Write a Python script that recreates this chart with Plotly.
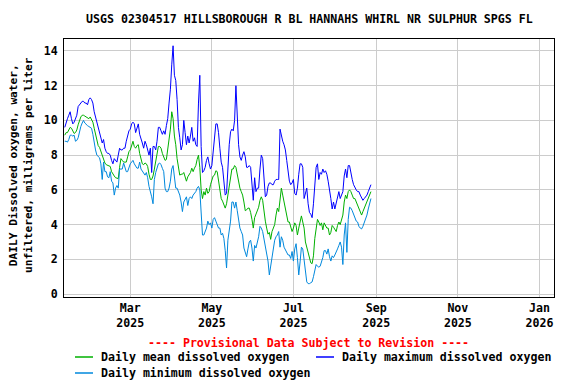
import pandas as pd
import plotly.graph_objects as go

start_date = "2025-01-11"

daily_max = [
    9.6, 9.9, 10.1, 10.3, 10.5, 10.1, 9.8, 9.9, 10.1, 10.3,
    10.8, 10.9, 11.0, 11.1, 11.1, 11.0, 11.0, 10.9, 11.2, 11.3,
    11.2, 11.0, 10.5, 10.2, 9.9, 9.5, 9.2, 8.9, 8.7, 8.9,
    8.4, 8.2, 8.1, 8.1, 8.0, 7.7, 7.5, 7.8, 7.7, 7.6,
    8.0, 8.4, 8.3, 8.3, 8.4, 8.4, 8.8, 9.2, 9.4, 9.5,
    9.8, 9.9, 9.8, 9.3, 9.6, 9.8, 9.2, 9.0, 8.7, 8.4,
    8.8, 8.6, 8.2, 8.0, 8.4, 7.0, 8.5, 8.5, 8.3, 8.8,
    9.6, 9.6, 9.4, 9.2, 9.4, 9.2, 9.7, 10.1, 11.0, 11.8,
    13.2, 14.3, 12.6, 12.3, 11.2, 9.6, 9.0, 8.3, 8.6, 10.0,
    9.3, 8.6, 9.1, 8.7, 9.1, 9.6, 8.8, 9.0, 8.6, 8.5,
    11.0, 12.6, 8.5, 7.0, 7.1, 7.3, 7.7, 7.9, 7.5, 7.2,
    7.4, 8.3, 9.0, 9.8, 9.8, 9.3, 8.4, 7.6, 7.3, 6.5,
    5.7, 5.8, 7.4, 8.6, 9.35, 9.5, 9.4, 10.0, 12.0, 9.9,
    8.6, 7.9, 7.7, 8.0, 8.2, 7.9, 7.3, 7.3, 7.4, 7.3,
    6.5, 5.4, 6.7, 5.9, 6.1, 6.1, 7.2, 8.0, 7.8, 6.9,
    5.6, 5.7, 6.2, 6.4, 6.4, 6.3, 6.3, 6.5, 6.6, 6.6,
    6.6, 9.5, 9.1, 8.8, 8.6, 8.3, 7.7, 7.2, 6.5, 6.3,
    6.4, 6.6, 5.8, 5.7, 6.1, 6.9, 7.5, 7.5, 7.3, 5.5,
    5.9, 6.1, 5.2, 4.7, 4.6, 4.4, 5.2, 6.6, 7.3, 7.5,
    6.6, 7.0, 6.9, 7.2, 7.0, 7.1, 6.9, 6.5, 6.1, 5.5,
    4.9, 5.3, 4.9, 5.3, 5.6, 5.9, 5.5, 5.7, 5.9, 6.8,
    7.2, 6.7, 7.4, 7.4, 6.9, 6.6, 6.3, 6.1, 6.0, 5.9,
    5.9, 5.7, 5.5, 5.4, 5.5, 5.6, 5.7, 5.9, 6.1, 6.3,
]

daily_mean = [
    9.15, 9.3, 9.3, 9.45, 9.6, 9.55, 9.4, 9.25, 9.3, 9.45,
    9.75, 10.0, 10.2, 10.3, 10.3, 10.25, 10.2, 10.1, 10.1, 10.2,
    10.05, 9.9, 9.55, 9.2, 8.9, 8.55, 8.45, 8.2, 8.0, 7.8,
    7.55, 7.45, 7.4, 7.35, 7.35, 7.05, 6.9, 6.8, 6.7, 6.65,
    6.65, 7.3, 7.8, 7.7, 7.6, 7.6, 7.6, 7.9, 8.2, 8.3,
    8.6, 8.8, 8.5, 8.4, 8.55, 8.6, 8.1, 7.7, 7.5, 7.45,
    7.55, 7.5, 7.35, 6.9, 6.6, 6.6, 6.8, 7.2, 7.6, 8.1,
    8.5, 8.5, 8.4, 8.1, 7.85, 7.7, 7.75, 8.3, 8.9, 9.5,
    10.5, 10.1, 9.1, 8.6, 7.8, 7.2, 6.85, 6.9, 6.9, 7.0,
    6.65, 6.5, 6.75, 6.9, 7.0, 7.25, 7.05, 7.25, 7.4, 7.75,
    8.0, 7.3, 6.0, 5.5, 5.9, 5.7, 6.1, 5.8, 5.9, 6.3,
    6.5, 6.8, 6.85, 7.1, 7.05, 6.5, 5.85, 5.5, 5.35, 5.15,
    4.95, 5.2, 5.7, 6.1, 6.6, 7.2, 7.2, 7.4, 7.3, 6.9,
    6.3, 6.1, 5.9, 5.7, 5.3, 4.8, 4.85, 4.95, 4.95, 4.7,
    4.3, 3.8, 4.4, 4.6, 4.8, 5.0, 5.4, 5.6, 5.4, 4.7,
    4.2, 3.8, 3.45, 3.55, 3.15, 3.6, 3.8, 4.0, 4.55, 4.95,
    4.75, 5.3, 6.1, 5.7, 5.3, 4.95, 4.55, 4.15, 4.15, 3.8,
    3.6, 3.8, 4.1, 3.95, 3.4, 3.8, 4.15, 4.5, 4.15, 3.8,
    3.0, 2.65, 2.45, 2.05, 1.8, 1.75, 2.2, 3.2, 3.95, 4.3,
    4.15, 3.95, 4.1, 3.7, 4.1, 3.95, 3.8, 3.8, 3.4, 3.55,
    3.95, 3.85, 3.75, 3.6, 3.95, 4.15, 4.0, 4.35, 4.55, 5.3,
    5.7, 5.5, 5.9, 6.0, 5.9, 5.7, 5.5, 5.5, 5.3, 5.1,
    4.95, 4.75, 4.55, 4.75, 4.95, 5.1, 5.3, 5.5, 5.7, 5.9,
]

daily_min = [
    8.8, 8.8, 8.75, 8.9, 9.15, 9.15, 9.1, 9.15, 8.8, 8.85,
    9.0, 9.4, 9.65, 9.85, 10.0, 9.85, 9.75, 9.7, 9.65, 9.6,
    9.55, 9.2, 8.6, 8.3, 8.0, 7.9, 7.85, 7.5, 6.6, 7.6,
    7.05, 7.05, 6.75, 6.7, 7.05, 6.5, 6.4, 5.7, 6.1, 6.25,
    6.1, 7.2, 7.2, 7.2, 7.55, 7.3, 7.05, 7.05, 7.3, 7.5,
    7.6, 7.7, 7.5, 7.35, 7.25, 7.25, 7.6, 7.2, 7.1, 7.0,
    6.85, 7.0, 6.7, 6.2, 5.95, 5.6, 5.2, 6.6, 7.0, 7.2,
    7.5, 7.55, 7.45, 7.24, 7.05, 6.1, 5.9, 5.9, 6.1, 6.5,
    7.2, 7.4, 6.6, 6.1, 6.1, 5.85, 5.7, 5.3, 4.75, 5.3,
    5.5, 5.6, 5.1, 5.5, 5.6, 5.5, 5.7, 5.8, 5.9, 6.1,
    6.2, 6.0, 4.35, 3.4, 3.4, 3.6, 3.8, 4.2, 4.0, 4.1,
    3.8, 4.3, 4.4, 4.2, 4.0, 3.8, 3.8, 3.4, 3.5, 3.2,
    2.5, 1.5, 3.1, 3.7, 4.2, 5.3, 5.3, 4.95, 5.3, 4.8,
    4.2, 3.8, 3.6, 3.4, 2.65, 2.3, 2.15, 2.6, 3.0, 3.1,
    2.65, 1.9, 2.8, 2.65, 3.0, 3.3, 3.9, 3.8, 3.6, 3.2,
    2.6, 2.2, 1.9, 1.1, 1.65, 2.25, 2.6, 3.1, 3.3, 3.4,
    3.6, 2.7, 3.3, 3.1, 2.7, 2.55, 2.35, 2.25, 2.25, 2.05,
    2.45, 1.9, 2.6, 2.9, 2.1, 1.1, 1.85, 2.7, 2.6, 1.85,
    1.4, 0.7, 0.6, 0.6, 0.65, 0.7, 1.0, 1.3, 1.7, 1.6,
    1.55, 1.6, 1.8, 2.1, 2.5, 2.5, 2.3, 2.6, 2.15, 1.9,
    2.2, 2.1, 2.25, 2.4, 2.6, 2.8, 3.0, 2.7, 1.7, 3.4,
    4.1, 2.4, 4.3, 5.0, 4.95, 4.8, 4.6, 4.4, 4.2, 4.15,
    3.9, 3.8, 3.75, 3.9, 4.1, 4.3, 4.55, 4.9, 5.3, 5.5,
]

tick_dates = ["2025-03-01", "2025-05-01", "2025-07-01", "2025-09-01", "2025-11-01", "2026-01-01"]
tick_labels = ["Mar<br>2025", "May<br>2025", "Jul<br>2025", "Sep<br>2025", "Nov<br>2025", "Jan<br>2026"]
y_ticks = [0, 2, 4, 6, 8, 10, 12, 14]

title_text = "USGS 02304517 HILLSBOROUGH R BL HANNAHS WHIRL NR SULPHUR SPGS FL"
y_title = "DAILY Dissolved oxygen, water,<br>unfiltered, milligrams per liter"
provisional = "---- Provisional Data Subject to Revision ----"
series_names = ["Daily mean dissolved oxygen", "Daily maximum dissolved oxygen", "Daily minimum dissolved oxygen"]
series_colors = ["#00b000", "#0000ff", "#0088dd"]

dates = pd.date_range(start_date, periods=len(daily_mean), freq="D")

FONT = "DejaVu Sans Mono"
FS = 11.6

# The page body has an 8px default margin, so the figure is drawn 8px smaller
# and all target pixel positions are shifted by that offset.
OFF = 8
W, H = 576 - OFF, 384 - OFF
L, T = 64 - OFF, 39 - OFF
R = 576 - 554
B = 384 - 297
pw, ph = W - L - R, H - T - B

def px_x(x):
    return (x - OFF - L) / pw

def px_y(y):
    return (T + ph - (y - OFF)) / ph

fig = go.Figure()
for vals, name, col in [(daily_mean, series_names[0], series_colors[0]),
                        (daily_max, series_names[1], series_colors[1]),
                        (daily_min, series_names[2], series_colors[2])]:
    fig.add_trace(go.Scatter(x=dates, y=vals, mode="lines", name=name,
                             line=dict(color=col, width=1), showlegend=False))

fig.update_layout(
    width=W, height=H,
    margin=dict(l=L, r=R, t=T, b=B, pad=0),
    paper_bgcolor="white", plot_bgcolor="white",
    font=dict(family=FONT, size=FS, color="black", weight="bold"),
    xaxis=dict(
        type="date",
        range=["2025-01-10 10:00", "2026-01-11 22:00"],
        tickvals=tick_dates, ticktext=tick_labels,
        showgrid=True, gridcolor="#cccccc", gridwidth=1,
        showline=True, linecolor="black", linewidth=1, mirror=True,
        ticks="", zeroline=False,
        tickfont=dict(family=FONT, size=FS, color="black", weight="bold"),
    ),
    yaxis=dict(
        range=[-0.17, 14.69],
        tickvals=y_ticks,
        showgrid=True, gridcolor="#cccccc", gridwidth=1,
        showline=True, linecolor="black", linewidth=1, mirror=True,
        ticks="", zeroline=False, ticklabelstandoff=3,
        tickfont=dict(family=FONT, size=FS, color="black", weight="bold"),
    ),
)

ann = [
    dict(text=title_text, x=px_x(309), y=px_y(19), xref="paper", yref="paper",
         xanchor="center", yanchor="middle", showarrow=False),
    dict(text=y_title, x=px_x(21), y=px_y(165), xref="paper", yref="paper",
         xanchor="center", yanchor="middle", showarrow=False, textangle=-90,
         font=dict(family=FONT, size=11.2, color="black", weight="bold")),
    dict(text=provisional, x=px_x(308), y=px_y(343), xref="paper", yref="paper",
         xanchor="center", yanchor="middle", showarrow=False,
         font=dict(color="red", family=FONT, size=FS, weight="bold")),
    dict(text=series_names[0], x=px_x(99), y=px_y(357), xref="paper", yref="paper",
         xanchor="left", yanchor="middle", showarrow=False),
    dict(text=series_names[1], x=px_x(340), y=px_y(357), xref="paper", yref="paper",
         xanchor="left", yanchor="middle", showarrow=False),
    dict(text=series_names[2], x=px_x(99), y=px_y(373), xref="paper", yref="paper",
         xanchor="left", yanchor="middle", showarrow=False),
]
fig.update_layout(annotations=ann)

shapes = []
for (x0, x1, yy, col) in [(75, 93, 357, series_colors[0]), (316, 334, 357, series_colors[1]),
                          (75, 93, 373, series_colors[2])]:
    shapes.append(dict(type="line", xref="paper", yref="paper",
                       x0=px_x(x0), x1=px_x(x1), y0=px_y(yy), y1=px_y(yy),
                       line=dict(color=col, width=1.5)))
fig.update_layout(shapes=shapes)

fig.write_html("out.html")
